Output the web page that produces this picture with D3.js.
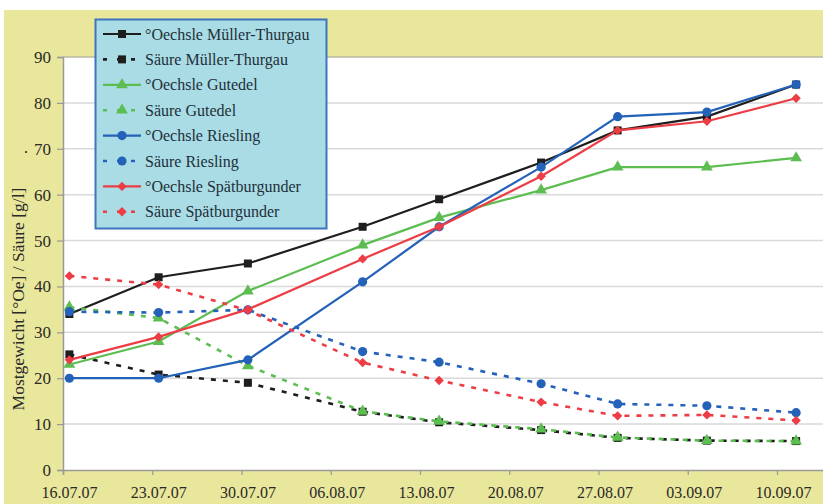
<!DOCTYPE html>
<html><head><meta charset="utf-8">
<script src="https://cdn.jsdelivr.net/npm/d3@7"></script>
<style>html,body{margin:0;padding:0;background:#fff;}svg{display:block;} svg text{font-family:"Liberation Serif","Times New Roman","DejaVu Serif",serif;}</style>
</head><body>
<svg id="c" width="823" height="504"></svg>
<script>
// ---- data ----
const sampleDates = ["16.07.07","23.07.07","30.07.07","08.08.07","14.08.07","22.08.07","28.08.07","04.09.07","11.09.07"];
const tickLabels = ["16.07.07","23.07.07","30.07.07","06.08.07","13.08.07","20.08.07","27.08.07","03.09.07","10.09.07"];
const yTicks = [0,10,20,30,40,50,60,70,80,90];
const seriesNames = ["°Oechsle Müller-Thurgau","Säure Müller-Thurgau","°Oechsle Gutedel","Säure Gutedel","°Oechsle Riesling","Säure Riesling","°Oechsle Spätburgunder","Säure Spätburgunder"];
const oechsleMT   = [34, 42, 45, 53, 59, 67, 74, 77, 84];
const saeureMT    = [25.2, 20.8, 19.0, 12.7, 10.4, 8.7, 7.0, 6.4, 6.3];
const oechsleGut  = [23, 28, 39, 49, 55, 61, 66, 66, 68];
const saeureGut   = [35.5, 33.1, 22.7, 12.8, 10.6, 8.9, 7.1, 6.4, 6.3];
const oechsleRies = [20, 20, 24, 41, 53, 66, 77, 78, 84];
const saeureRies  = [34.5, 34.3, 34.9, 25.8, 23.5, 18.8, 14.4, 14.0, 12.5];
const oechsleSpb  = [24, 29, 35, 46, 53, 64, 74, 76, 81];
const saeureSpb   = [42.3, 40.4, 34.8, 23.4, 19.5, 14.8, 11.8, 12.0, 10.8];

const seriesValues = [oechsleMT, saeureMT, oechsleGut, saeureGut, oechsleRies, saeureRies, oechsleSpb, saeureSpb];
const colors = ["#1e1e1e","#1e1e1e","#5cbd50","#5cbd50","#2461b8","#2461b8","#ec3d45","#ec3d45"];
const dashed = [false,true,false,true,false,true,false,true];
const markers = ["square","square","triangle","triangle","circle","circle","diamond","diamond"];

const parse = d3.timeParse("%d.%m.%y");
const fmt = d3.timeFormat("%d.%m.%y");
const FONT = "Liberation Serif, Times New Roman, DejaVu Serif, serif";

const svg = d3.select("#c");
const W = 823, H = 504;
const mLeft = 63, mTop = 57, mBottom = 470, rightEnd = 828;

// backgrounds
svg.append("rect").attr("x",4).attr("y",10).attr("width",W-4).attr("height",H-10).attr("fill","#e9e79b");
svg.append("rect").attr("x",mLeft).attr("y",mTop).attr("width",W-mLeft).attr("height",mBottom-mTop).attr("fill","#ffffff");

const x = d3.scaleTime().domain([parse("16.07.07"), parse("14.09.07")]).range([mLeft, rightEnd]);
const y = d3.scaleLinear().domain([0,90]).range([mBottom, mTop]);

// gridlines
svg.append("g").selectAll("line").data(yTicks.filter(v=>v>0)).join("line")
  .attr("x1",mLeft).attr("x2",W).attr("y1",d=>y(d)).attr("y2",d=>y(d))
  .attr("stroke",d=>d===90?"#b9b9a0":"#d9d9d9").attr("stroke-width",1.5);

// y axis
const yAxis = d3.axisLeft(y).tickValues(yTicks).tickSize(6).tickPadding(6).tickFormat(d3.format("d"));
const gy = svg.append("g").attr("transform",`translate(${mLeft},0)`).call(yAxis);
gy.attr("font-family",null);
gy.select(".domain").attr("stroke","#9a9a9a").attr("stroke-width",1.5);
gy.selectAll(".tick line").attr("stroke","#9a9a9a").attr("stroke-width",1.2);
gy.selectAll("text").style("font-family",FONT).attr("font-size",17).attr("fill","#2a2a2a");

// x axis
const xAxis = d3.axisBottom(x).tickValues(tickLabels.map(parse)).tickSize(5).tickPadding(12).tickFormat(fmt);
const gx = svg.append("g").attr("transform",`translate(0,${mBottom})`).call(xAxis);
gx.attr("font-family",null);
gx.select(".domain").attr("stroke","#9a9a9a").attr("stroke-width",1.5);
gx.selectAll(".tick line").attr("stroke","#9a9a9a").attr("stroke-width",1.2);
gx.selectAll("text").style("font-family",FONT).attr("font-size",16).attr("fill","#2a2a2a").attr("dx","6");

// y title
svg.append("text").attr("transform","translate(24,299) rotate(-90)").attr("text-anchor","middle")
  .style("font-family",FONT).attr("font-size",17.5).attr("fill","#2a2a2a").text("Mostgewicht [°Oe] / Säure [g/l]");
svg.append("text").attr("transform","translate(27,152) rotate(-90)").attr("text-anchor","middle")
  .style("font-family",FONT).attr("font-size",17.5).attr("fill","#2a2a2a").text(".");

function symPath(type){
  if(type==="square") return d3.symbol(d3.symbolSquare, 64)();
  if(type==="triangle") return d3.symbol(d3.symbolTriangle, 60)();
  if(type==="circle") return d3.symbol(d3.symbolCircle, 66)();
  return d3.symbol(d3.symbolSquare, 44)();
}
function symRot(type){ return type==="diamond" ? " rotate(45)" : ""; }

const xd = s => x(d3.timeHour.offset(parse(s), 12));
const line = d3.line().x((d,i)=>xd(sampleDates[i])).y(d=>y(d));

seriesValues.forEach((vals,k)=>{
  const g = svg.append("g");
  g.append("path").datum(vals).attr("d",line).attr("fill","none")
    .attr("stroke",colors[k]).attr("stroke-width",dashed[k]?2.6:2.2)
    .attr("stroke-dasharray",dashed[k]?"5,7":null);
  g.selectAll("path.m").data(vals).join("path").attr("class","m")
    .attr("d",symPath(markers[k]))
    .attr("transform",(d,i)=>`translate(${xd(sampleDates[i])},${y(d)})${symRot(markers[k])}`)
    .attr("fill",colors[k]);
});

// legend
const lg = svg.append("g");
lg.append("rect").attr("x",95.5).attr("y",19.5).attr("width",231).attr("height",209)
  .attr("fill","#a9dce4").attr("stroke","#3f74bf").attr("stroke-width",2);
seriesNames.forEach((name,k)=>{
  const ry = 34 + k*25.4;
  lg.append("line").attr("x1",103).attr("x2",141).attr("y1",ry).attr("y2",ry)
    .attr("stroke",colors[k]).attr("stroke-width",dashed[k]?2.6:2.2)
    .attr("stroke-dasharray",dashed[k]?"4,10":null);
  lg.append("path").attr("d",symPath(markers[k]))
    .attr("transform",`translate(122,${ry})${symRot(markers[k])}`).attr("fill",colors[k]);
  lg.append("text").attr("x",145).attr("y",ry+5.5).style("font-family",FONT).attr("font-size",16)
    .attr("fill","#1f2f3a").text(name);
});
</script>
</body></html>
